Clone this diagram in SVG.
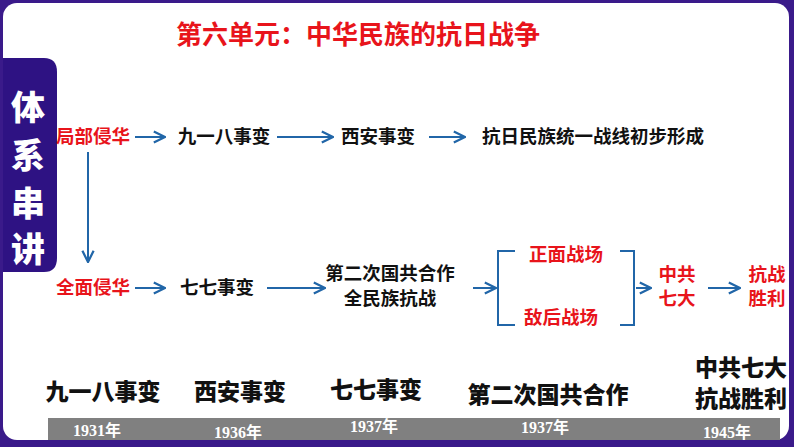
<svg xmlns="http://www.w3.org/2000/svg" width="794" height="447" viewBox="0 0 794 447">
<defs>
<style>
text{font-family:"Noto Sans CJK SC","Liberation Sans",sans-serif;font-weight:bold}
.r{fill:#e8141b;font-size:18.5px}
.k{fill:#111;font-size:18.5px}
.big{fill:#111;font-size:23px;font-weight:900}
.yr{fill:#fff;font-size:16px;font-family:"Liberation Serif","Noto Sans CJK SC",serif}
.ln{stroke:#2166a8;stroke-width:2;fill:none}
</style>
<marker id="a" viewBox="0 0 10 10" refX="9" refY="5" markerWidth="7" markerHeight="7" orient="auto"><path d="M1,1 L9,5 L1,9" fill="none" stroke="#2166a8" stroke-width="1.6"/></marker>
</defs>
<rect width="794" height="447" fill="#3a1a8a"/>
<rect x="3" y="3" width="786" height="437" rx="14" fill="#fff"/>
<path d="M3,58 L44,58 Q57,58 57,72 L57,258 Q57,272 44,272 L3,272 Z" fill="#2e1283"/>
<g id="side"><text x="28" y="120" text-anchor="middle" style="fill:#fff;font-size:34px;font-weight:900">体</text>
<text x="28" y="168" text-anchor="middle" style="fill:#fff;font-size:34px;font-weight:900">系</text>
<text x="28" y="216" text-anchor="middle" style="fill:#fff;font-size:34px;font-weight:900">串</text>
<text x="28" y="262" text-anchor="middle" style="fill:#fff;font-size:34px;font-weight:900">讲</text></g>
<g id="title"><text x="358" y="44" text-anchor="middle" style="fill:#e8141b;font-size:26px">第六单元：中华民族的抗日战争</text></g>
<g id="n1"><text class="r" x="93" y="143" text-anchor="middle">局部侵华</text></g>
<g id="n2"><text class="k" x="224" y="143" text-anchor="middle">九一八事变</text></g>
<g id="n3"><text class="k" x="378" y="143" text-anchor="middle">西安事变</text></g>
<g id="n4"><text class="k" x="593" y="143" text-anchor="middle">抗日民族统一战线初步形成</text></g>
<g id="n5"><text class="r" x="93" y="294" text-anchor="middle">全面侵华</text></g>
<g id="n6"><text class="k" x="217" y="294" text-anchor="middle">七七事变</text></g>
<g id="n7"><text class="k" x="390" y="280" text-anchor="middle">第二次国共合作</text><text class="k" x="390" y="305" text-anchor="middle">全民族抗战</text></g>
<g id="n8"><text class="r" x="566" y="261" text-anchor="middle">正面战场</text></g>
<g id="n9"><text class="r" x="561" y="324" text-anchor="middle">敌后战场</text></g>
<g id="n10"><text class="r" x="677" y="281" text-anchor="middle">中共</text><text class="r" x="677" y="305" text-anchor="middle">七大</text></g>
<g id="n11"><text class="r" x="767" y="281" text-anchor="middle">抗战</text><text class="r" x="767" y="305" text-anchor="middle">胜利</text></g>
<g id="connectors">
<path class="ln" marker-end="url(#a)" d="M135,137 H165"/>
<path class="ln" marker-end="url(#a)" d="M277,137 H333"/>
<path class="ln" marker-end="url(#a)" d="M429,137 H465"/>
<path class="ln" marker-end="url(#a)" d="M88,152 V262"/>
<path class="ln" marker-end="url(#a)" d="M135,288 H165"/>
<path class="ln" marker-end="url(#a)" d="M267,288 H325"/>
<path class="ln" marker-end="url(#a)" d="M473,288 H496"/>
<path class="ln" d="M515,251 H498 V325 H515"/>
<path class="ln" d="M620,251 H634 V325 H620"/>
<path class="ln" marker-end="url(#a)" d="M636,288 H651"/>
<path class="ln" marker-end="url(#a)" d="M708,288 H740"/>
</g>
<g id="timeline">
<rect x="48" y="418" width="732" height="22" fill="#808080"/>
<text class="big" x="103" y="400" text-anchor="middle">九一八事变</text>
<text class="big" x="240" y="400" text-anchor="middle">西安事变</text>
<text class="big" x="376" y="398" text-anchor="middle">七七事变</text>
<text class="big" x="548" y="403" text-anchor="middle">第二次国共合作</text>
<text class="big" x="741" y="376" text-anchor="middle">中共七大</text>
<text class="big" x="741" y="407" text-anchor="middle">抗战胜利</text>
<text class="yr" x="97" y="436" text-anchor="middle">1931年</text>
<text class="yr" x="238" y="438" text-anchor="middle">1936年</text>
<text class="yr" x="374" y="432" text-anchor="middle">1937年</text>
<text class="yr" x="545" y="433" text-anchor="middle">1937年</text>
<text class="yr" x="727" y="438" text-anchor="middle">1945年</text>
</g>
</svg>
